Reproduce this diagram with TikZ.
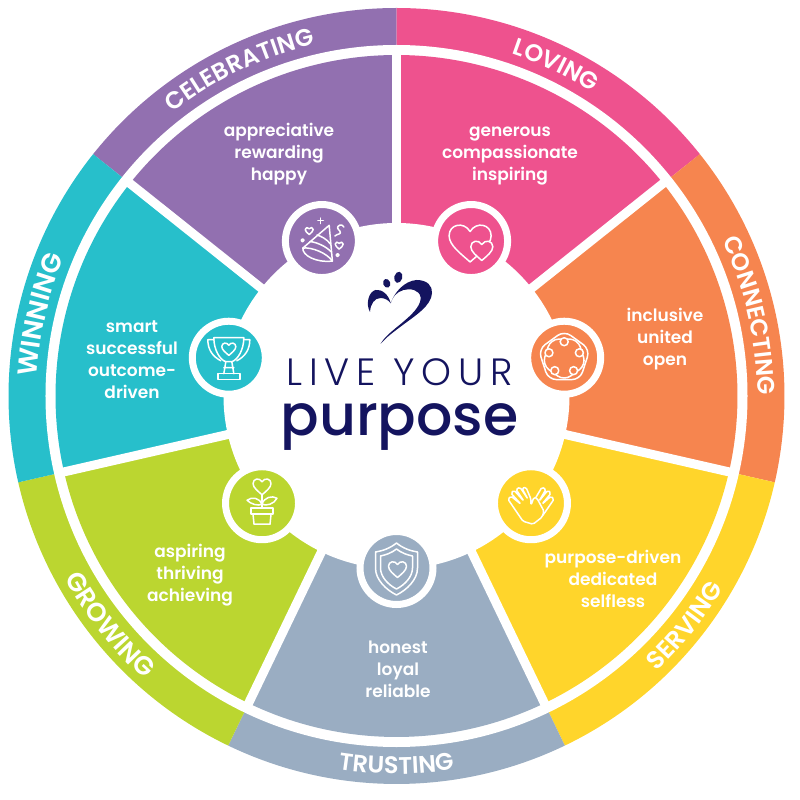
\documentclass[tikz,border=0pt]{standalone}
\usepackage{fontspec}
\usepackage{tikz}
\usetikzlibrary{decorations.text}
\setmainfont{Poppins SemiBold}
\newfontfamily\bandfont[LetterSpace=3]{Poppins SemiBold}
\newfontfamily\livefont[LetterSpace=18]{Poppins Light}
\newfontfamily\purposefont{Poppins Medium}
\definecolor{celebratingcol}{HTML}{9270B0}
\definecolor{lovingcol}{HTML}{EE528E}
\definecolor{connectingcol}{HTML}{F6854F}
\definecolor{servingcol}{HTML}{FFD52B}
\definecolor{trustingcol}{HTML}{9AADC2}
\definecolor{growingcol}{HTML}{BBD630}
\definecolor{winningcol}{HTML}{27BFCB}
\definecolor{logocol}{HTML}{14145F}
\begin{document}
\begin{tikzpicture}
                [x=1pt,y=1pt,
                words/.style={text=white,align=center,inner sep=0pt,font=\fontsize{17}{22}\selectfont},
                bandtext/.style={decorate,decoration={text along path,text align=center,text color=white}},
                badge/.style={circle,draw=white,line width=7pt,minimum size=73pt,inner sep=0pt},
                divider/.style={white,line width=9pt},
                iconline/.style={draw=white,line width=1.5pt,line join=round,line cap=round},
                lilheart/.pic={\path[iconline,pic actions] (0,-.95) .. controls (-.45,-.55) and (-1,-.15) .. (-1,.3)
                    .. controls (-1,.85) and (-.3,1) .. (0,.5) .. controls (.3,1) and (1,.85) .. (1,.3)
                    .. controls (1,-.15) and (.45,-.55) .. (0,-.95) -- cycle;}]
                \useasboundingbox (-396.5,-404) rectangle (403.5,396);
                % outer band
                \fill[celebratingcol] (0,0) -- (141.43:388) arc[start angle=141.43,end angle=90,radius=388] -- cycle;
                \fill[lovingcol] (0,0) -- (90:388) arc[start angle=90,end angle=38.57,radius=388] -- cycle;
                \fill[connectingcol] (0,0) -- (38.57:388) arc[start angle=38.57,end angle=-12.86,radius=388] -- cycle;
                \fill[servingcol] (0,0) -- (-12.86:388) arc[start angle=-12.86,end angle=-64.29,radius=388] -- cycle;
                \fill[trustingcol] (0,0) -- (-64.29:388) arc[start angle=-64.29,end angle=-115.71,radius=388] -- cycle;
                \fill[growingcol] (0,0) -- (-115.71:388) arc[start angle=-115.71,end angle=-167.14,radius=388] -- cycle;
                \fill[winningcol] (0,0) -- (-167.14:388) arc[start angle=-167.14,end angle=-218.57,radius=388] -- cycle;
                \fill[white] (0,0) circle (351);
                % inner wedges
                \fill[celebratingcol] (0,0) -- (141.43:341) arc[start angle=141.43,end angle=90,radius=341] -- cycle;
                \fill[lovingcol] (0,0) -- (90:341) arc[start angle=90,end angle=38.57,radius=341] -- cycle;
                \fill[connectingcol] (0,0) -- (38.57:341) arc[start angle=38.57,end angle=-12.86,radius=341] -- cycle;
                \fill[servingcol] (0,0) -- (-12.86:341) arc[start angle=-12.86,end angle=-64.29,radius=341] -- cycle;
                \fill[trustingcol] (0,0) -- (-64.29:341) arc[start angle=-64.29,end angle=-115.71,radius=341] -- cycle;
                \fill[growingcol] (0,0) -- (-115.71:341) arc[start angle=-115.71,end angle=-167.14,radius=341] -- cycle;
                \fill[winningcol] (0,0) -- (-167.14:341) arc[start angle=-167.14,end angle=-218.57,radius=341] -- cycle;
                \draw[divider] (0,0) -- (90:345);
                \draw[divider] (0,0) -- (38.57:345);
                \draw[divider] (0,0) -- (-12.86:345);
                \draw[divider] (0,0) -- (-64.29:345);
                \draw[divider] (0,0) -- (-115.71:345);
                \draw[divider] (0,0) -- (-167.14:345);
                \draw[divider] (0,0) -- (141.43:345);
                \fill[white] (0,0) circle (173);
                % band labels
                \path[bandtext,decoration={text={|\bandfont\fontsize{24}{24}\selectfont|CELEBRATING}}] (141.43:361) arc[start angle=141.43,end angle=90,radius=361];
                \path[bandtext,decoration={text={|\bandfont\fontsize{24}{24}\selectfont|LOVING}}] (90:361) arc[start angle=90,end angle=38.57,radius=361];
                \path[bandtext,decoration={text={|\bandfont\fontsize{24}{24}\selectfont|CONNECTING}}] (38.57:361) arc[start angle=38.57,end angle=-12.86,radius=361];
                \path[bandtext,decoration={text={|\bandfont\fontsize{25}{25}\selectfont|SERVING}}] (-64.29:379) arc[start angle=-64.29,end angle=-12.86,radius=379];
                \path[bandtext,decoration={text={|\bandfont\fontsize{24}{24}\selectfont|TRUSTING}}] (-115.71:378) arc[start angle=-115.71,end angle=-64.29,radius=378];
                \path[bandtext,decoration={text={|\bandfont\fontsize{26}{26}\selectfont|GROWING}}] (-167.14:379) arc[start angle=-167.14,end angle=-115.71,radius=379];
                \path[bandtext,decoration={text={|\bandfont\fontsize{27}{27}\selectfont|WINNING}}] (192.86:360) arc[start angle=192.86,end angle=141.43,radius=360];
                % wedge texts
                \node[words] (celebratingwords) at (-117.5,242) {appreciative\\rewarding\\happy};
                \node[words] (lovingwords) at (113.5,240) {generous\\compassionate\\inspiring};
                \node[words] (connectingwords) at (268.5,57) {inclusive\\united\\open};
                \node[words] (servingwords) at (216.5,-183) {purpose-driven\\dedicated\\selfless};
                \node[words] (trustingwords) at (1.5,-273) {honest\\loyal\\reliable};
                \node[words] (growingwords) at (-206.5,-179) {aspiring\\thriving\\achieving};
                \node[words] (winningwords) at (-264.5,36) {smart\\successful\\outcome-\\driven};
                % badges
                \node[badge,fill=celebratingcol] (partybadge) at (115.71:172) {};
                \node[badge,fill=lovingcol] (heartsbadge) at (64.29:172) {};
                \node[badge,fill=connectingcol] (ringbadge) at (12.86:172) {};
                \node[badge,fill=servingcol] (handsbadge) at (-38.57:172) {};
                \node[badge,fill=trustingcol] (shieldbadge) at (-90:172) {};
                \node[badge,fill=growingcol] (plantbadge) at (-141.43:172) {};
                \node[badge,fill=winningcol] (trophybadge) at (167.14:172) {};
                % party hat
                \begin{scope}[shift={(partybadge)}]
                    \path[iconline] (7.3,15.7) -- (-19,-7) .. controls (-20,-14) and (-6,-22) .. (10.5,-20) -- cycle;
                    \path[iconline] (-19,-7) .. controls (-10,-6) and (5,-12) .. (10.5,-20);
                    \path[iconline] (-12,-0.5) .. controls (-6,-1) and (4,-5) .. (9.5,-11);
                    \path[iconline] (-5,6) .. controls (-1,5) and (5,2) .. (8.5,-3);
                    \path[iconline] (-1.3,17.5) -- (-1.3,23) (-4,20.3) -- (1.4,20.3);
                    \pic[scale=4] at (-12.7,10.3) {lilheart};
                    \pic[scale=4] at (17.3,-4.3) {lilheart};
                    \path[iconline] (-19.3,0.7) circle (1.5);
                    \path[iconline] (15.7,-14) circle (1.5);
                    \path[iconline] (13,5) .. controls (16,8) and (20,6) .. (18,10) .. controls (16,12) and (14,14) .. (18,16) .. controls (20,17) and (21,15) .. (22,14);
                \end{scope}
                % two hearts
                \begin{scope}[shift={(heartsbadge)}]
                    \pic[scale=21] at (-1,-1) {lilheart};
                    \pic[scale=11,fill=lovingcol] at (10.7,-9) {lilheart};
                \end{scope}
                % ring of people
                \begin{scope}[shift={(ringbadge)}]
                    \path[iconline,rounded corners=8pt] (90:27) -- (18:27) -- (-54:27) -- (-126:27) -- (162:27) -- cycle;
                    \path[iconline,rounded corners=8pt] (54:23) -- (-18:23) -- (-90:23) -- (198:23) -- (126:23) -- cycle;
                    \path[iconline,fill=connectingcol] (90:16) circle (4);
                    \path[iconline,fill=connectingcol] (18:16) circle (4);
                    \path[iconline,fill=connectingcol] (-54:16) circle (4);
                    \path[iconline,fill=connectingcol] (-126:16) circle (4);
                    \path[iconline,fill=connectingcol] (162:16) circle (4);
                \end{scope}
                % hands
                \begin{scope}[shift={(handsbadge)}]
                    \path[iconline,rounded corners=1.5pt] (12,-12) -- (23,4) -- (20,7) -- (11,-1) -- (20,10) -- (17,13) -- (8,2) -- (15,14) -- (11,16) -- (5,6);
                    \path[iconline,fill=servingcol,rounded corners=1.5pt] (2,-21) -- (-8,-18) -- (-23,4) -- (-20,7) -- (-10,-1) -- (-20,10) -- (-17,13) -- (-7,2) -- (-15,14) -- (-11,16) -- (-3,4) -- (-9,15) -- (-5,16) -- (0,4) -- (0,-2) -- (3,6) -- (6,5) -- (13,-8) -- (11,-14) -- cycle;
                \end{scope}
                % shield
                \begin{scope}[shift={(shieldbadge)}]
                    \path[iconline] (0,25) .. controls (-6,20) and (-14,17) .. (-21,16) -- (-21,0) .. controls (-21,-12) and (-10,-22) .. (0,-27) .. controls (10,-22) and (21,-12) .. (21,0) -- (21,16) .. controls (14,17) and (6,20) .. (0,25) -- cycle;
                    \path[iconline] (0,19) .. controls (-5,15) and (-11,13) .. (-16,12) -- (-16,0) .. controls (-16,-9) and (-8,-17) .. (0,-21) .. controls (8,-17) and (16,-9) .. (16,0) -- (16,12) .. controls (11,13) and (5,15) .. (0,19) -- cycle;
                    \pic[scale=9] at (1,-1) {lilheart};
                \end{scope}
                % plant
                \begin{scope}[shift={(plantbadge)}]
                    \pic[scale=9] at (0,17) {lilheart};
                    \path[iconline] (0,8) -- (0,-5);
                    \path[iconline] (0,-1) .. controls (-2,5) and (-10,7) .. (-15,3) .. controls (-11,-1) and (-4,-3) .. (0,-1);
                    \path[iconline] (0,-1) .. controls (2,6) and (10,8) .. (15,5) .. controls (12,-1) and (4,-3) .. (0,-1);
                    \path[iconline] (-11,-5) rectangle (11,-11);
                    \path[iconline] (-9,-11) -- (-8,-21) -- (8,-21) -- (9,-11);
                \end{scope}
                % trophy
                \begin{scope}[shift={(trophybadge)}]
                    \path[iconline] (-15,20) -- (15,20) .. controls (15,8) and (9,-2) .. (3,-4) -- (-3,-4) .. controls (-9,-2) and (-15,8) .. (-15,20) -- cycle;
                    \path[iconline] (-15,18) -- (-21,18) .. controls (-21,8) and (-16,1) .. (-8,-3);
                    \path[iconline] (15,18) -- (21,18) .. controls (21,8) and (16,1) .. (8,-3);
                    \path[iconline] (-3,-4) -- (-5,-16) (3,-4) -- (5,-16) (-5,-10) -- (5,-10);
                    \path[iconline] (-11,-16) rectangle (11,-22);
                    \pic[scale=7] at (0,9) {lilheart};
                \end{scope}
                % logo
                \fill[logocol] (-5.8,92.7) .. controls (-2,104) and (8,115) .. (20,116)
                    .. controls (31,116) and (36,110) .. (35.5,103)
                    .. controls (35,90) and (18,80) .. (5,70)
                    .. controls (-3,64) and (-10,59) .. (-16,52)
                    .. controls (-11,61) and (0,68) .. (10,77)
                    .. controls (18,84) and (25,92) .. (24,99)
                    .. controls (23,106) and (14,108) .. (7,106)
                    .. controls (0,104) and (-4,99) .. (-5.8,92.7)
                    .. controls (-8,102) and (-15,107) .. (-21,106)
                    .. controls (-28,104) and (-31,92) .. (-26.5,84)
                    .. controls (-26,92) and (-22,98) .. (-16,98)
                    .. controls (-12,98) and (-8,96) .. (-5.8,92.7) -- cycle;
                \fill[logocol] (-9.8,112.7) ellipse[x radius=3.5,y radius=4.5,rotate=20];
                \fill[logocol] (1.8,118.7) ellipse[x radius=4,y radius=5.7,rotate=-15];
                \node[text=logocol,inner sep=0pt,font=\livefont\fontsize{38}{38}\selectfont] (live) at (3,24) {LIVE YOUR};
                \node[text=logocol,inner sep=0pt,anchor=base,font=\purposefont\fontsize{57}{57}\selectfont] (purpose) at (3,-39) {purpose};
\end{tikzpicture}
\end{document}
